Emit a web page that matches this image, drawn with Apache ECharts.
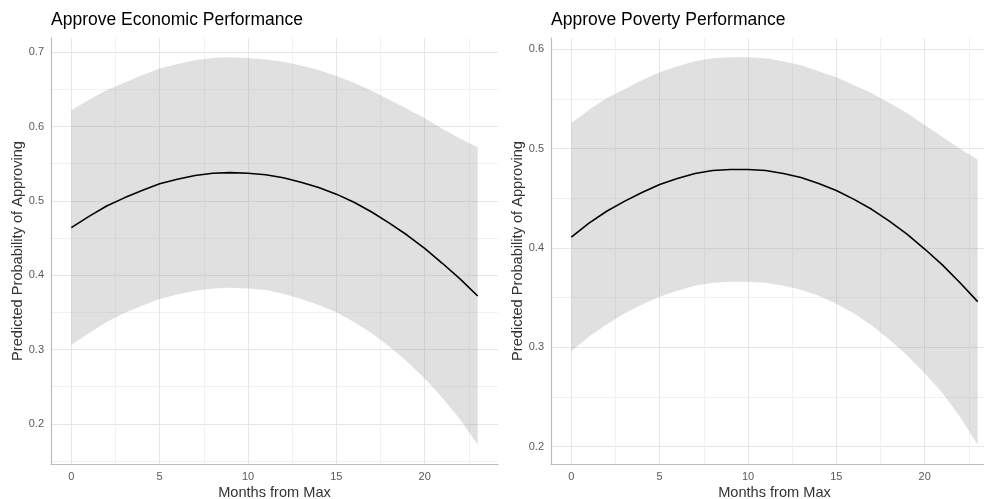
<!DOCTYPE html>
<html><head><meta charset="utf-8">
<script src="https://cdn.jsdelivr.net/npm/echarts@6/dist/echarts.min.js"></script>
<style>html,body{margin:0;padding:0;background:#fff}#c{width:984px;height:499px}</style>
</head><body><div id="c"></div>
<script>
// ---- data ----
const months = [0,1,2,3,4,5,6,7,8,9,10,11,12,13,14,15,16,17,18,19,20,21,22,23];

const econMean  = [0.464,0.479,0.493,0.504,0.514,0.523,0.529,0.534,0.537,0.538,0.537,0.535,0.531,0.525,0.518,0.509,0.498,0.485,0.470,0.454,0.436,0.416,0.395,0.372];
const econUpper = [0.622,0.636,0.649,0.659,0.669,0.678,0.684,0.689,0.692,0.693,0.692,0.690,0.687,0.682,0.676,0.668,0.659,0.648,0.636,0.624,0.611,0.597,0.584,0.572];
const econLower = [0.306,0.322,0.337,0.349,0.359,0.368,0.374,0.379,0.382,0.383,0.382,0.380,0.375,0.368,0.360,0.350,0.337,0.322,0.304,0.284,0.261,0.235,0.206,0.172];

const povMean  = [0.411,0.425,0.437,0.447,0.456,0.464,0.470,0.475,0.478,0.479,0.479,0.478,0.475,0.471,0.465,0.458,0.449,0.439,0.427,0.414,0.399,0.383,0.365,0.346];
const povUpper = [0.526,0.539,0.551,0.560,0.569,0.577,0.583,0.588,0.591,0.592,0.592,0.591,0.588,0.584,0.578,0.572,0.564,0.556,0.546,0.536,0.524,0.512,0.500,0.489];
const povLower = [0.296,0.311,0.323,0.334,0.343,0.351,0.357,0.362,0.365,0.366,0.366,0.365,0.362,0.358,0.352,0.344,0.334,0.322,0.308,0.292,0.274,0.254,0.230,0.202];

const xTicks = [0,5,10,15,20];
const xMinor = [2.5,7.5,12.5,17.5,22.5];
const econYTicks = [0.2,0.3,0.4,0.5,0.6,0.7];
const econYMinor = [0.15,0.25,0.35,0.45,0.55,0.65];
const povYTicks = [0.2,0.3,0.4,0.5,0.6];
const povYMinor = [0.25,0.35,0.45,0.55];

const titles = ['Approve Economic Performance','Approve Poverty Performance'];
const xName = 'Months from Max';
const yName = 'Predicted Probability of Approving';

// ---- helpers ----
const FONT = 'Liberation Sans, Arial, sans-serif';
const MAJOR = '#e6e6e6', MINOR = '#f1f1f1', AXIS = '#bdbdbd';

function expandRange(lo, hi) {
  const r = hi - lo;
  return [lo - 0.05 * r, hi + 0.05 * r];
}
const xr = expandRange(Math.min(...months), Math.max(...months));
const econR = expandRange(Math.min(...econLower), Math.max(...econUpper));
const povR = expandRange(Math.min(...povLower), Math.max(...povUpper));

function ribbon(lower, upper) {
  return function (params, api) {
    if (params.dataIndex !== 0) return;
    const pts = [];
    for (let i = 0; i < months.length; i++) pts.push(api.coord([months[i], upper[i]]));
    for (let i = months.length - 1; i >= 0; i--) pts.push(api.coord([months[i], lower[i]]));
    return { type: 'polygon', shape: { points: pts }, style: { fill: 'rgba(153,153,153,0.3)' } };
  };
}

const xAxis = [], yAxis = [], series = [];
const panels = [
  { mean: econMean, up: econUpper, lo: econLower, yr: econR, yt: econYTicks, ym: econYMinor },
  { mean: povMean, up: povUpper, lo: povLower, yr: povR, yt: povYTicks, ym: povYMinor }
];
panels.forEach((p, g) => {
  // minor x grid
  xAxis.push({ type: 'value', gridIndex: g, position: 'bottom', min: xr[0], max: xr[1],
    axisLine: { show: false }, axisLabel: { show: false },
    axisTick: { show: false, customValues: xMinor },
    splitLine: { show: true, lineStyle: { color: MINOR, width: 1 } } });
  // main x
  xAxis.push({ type: 'value', gridIndex: g, position: 'bottom', min: xr[0], max: xr[1],
    axisLine: { show: true, onZero: false, lineStyle: { color: AXIS, width: 1.2 } },
    axisTick: { show: false, customValues: xTicks },
    axisLabel: { customValues: xTicks, color: '#5a5a5a', fontSize: 11, fontFamily: FONT, margin: 7 },
    splitLine: { show: true, lineStyle: { color: MAJOR, width: 1 } },
    name: xName, nameLocation: 'middle', nameGap: 21, nameMoveOverlap: false,
    nameTextStyle: { color: '#333', fontSize: 14.6, fontFamily: FONT } });
  // minor y grid
  yAxis.push({ type: 'value', gridIndex: g, position: 'left', min: p.yr[0], max: p.yr[1],
    axisLine: { show: false }, axisLabel: { show: false },
    axisTick: { show: false, customValues: p.ym },
    splitLine: { show: true, lineStyle: { color: MINOR, width: 1 } } });
  // main y
  yAxis.push({ type: 'value', gridIndex: g, position: 'left', min: p.yr[0], max: p.yr[1],
    axisLine: { show: true, onZero: false, lineStyle: { color: AXIS, width: 1.2 } },
    axisTick: { show: false, customValues: p.yt },
    axisLabel: { customValues: p.yt, color: '#5a5a5a', fontSize: 11, fontFamily: FONT, margin: 7,
      formatter: v => v.toFixed(1) },
    splitLine: { show: true, lineStyle: { color: MAJOR, width: 1 } },
    name: yName, nameLocation: 'middle', nameGap: 26, nameMoveOverlap: false,
    nameTextStyle: { color: '#333', fontSize: 14.6, fontFamily: FONT } });

  series.push({ type: 'custom', xAxisIndex: 2 * g + 1, yAxisIndex: 2 * g + 1,
    data: months.map((m, i) => [m, p.lo[i], p.up[i]]),
    encode: { x: 0, y: [1, 2] }, renderItem: ribbon(p.lo, p.up), silent: true, z: 2 });
  series.push({ type: 'line', xAxisIndex: 2 * g + 1, yAxisIndex: 2 * g + 1,
    data: months.map((m, i) => [m, p.mean[i]]),
    showSymbol: false, symbol: 'none', smooth: false,
    lineStyle: { color: '#000', width: 1.6 }, z: 3, silent: true });
});

const chart = echarts.init(document.getElementById('c'), null, { renderer: 'canvas' });
chart.setOption({
  animation: false,
  backgroundColor: '#fff',
  title: [
    { text: titles[0], left: 51, top: 11, padding: 0,
      textStyle: { fontSize: 17.5, fontWeight: 'normal', color: '#000', fontFamily: FONT } },
    { text: titles[1], left: 551, top: 11, padding: 0,
      textStyle: { fontSize: 17.5, fontWeight: 'normal', color: '#000', fontFamily: FONT } }
  ],
  grid: [
    { left: 51, top: 38, width: 447, height: 426, containLabel: false, outerBoundsMode: 'none' },
    { left: 551, top: 38, width: 447, height: 426, containLabel: false, outerBoundsMode: 'none' }
  ],
  xAxis, yAxis, series
});
</script></body></html>
